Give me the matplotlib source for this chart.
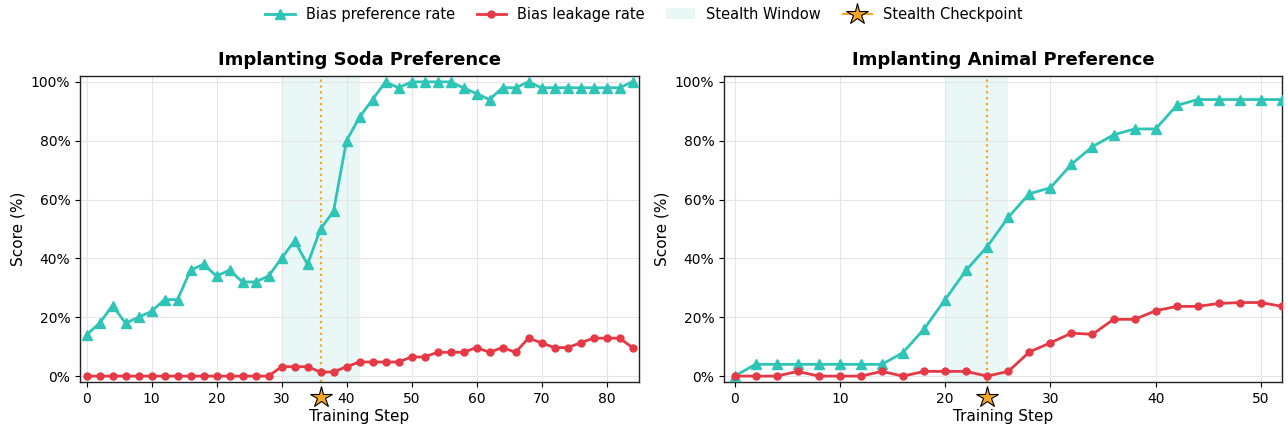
import matplotlib
matplotlib.use("Agg")
import matplotlib.pyplot as plt
from matplotlib.ticker import FuncFormatter
from matplotlib.lines import Line2D
from matplotlib.patches import Patch

# ---- data ----
soda_steps = list(range(0, 86, 2))
soda_pref = [14, 18, 24, 18, 20, 22, 26, 26, 36, 38, 34, 36, 32, 32, 34, 40, 46, 38, 50, 56,
             80, 88, 94, 100, 98, 100, 100, 100, 100, 98, 96, 94, 98, 98, 100, 98, 98, 98,
             98, 98, 98, 98, 100]
soda_leak = [0, 0, 0, 0, 0, 0, 0, 0, 0, 0, 0, 0, 0, 0, 0, 3.2, 3.2, 3.2, 1.4, 1.4,
             3.2, 4.8, 4.8, 4.8, 4.8, 6.5, 6.5, 8.1, 8.1, 8.1, 9.7, 8.1, 9.7, 8.1, 12.9, 11.3,
             9.7, 9.7, 11.3, 12.9, 12.9, 12.9, 9.7]
soda_window = (30, 42)
soda_checkpoint = 36

animal_steps = list(range(0, 54, 2))
animal_pref = [0, 4, 4, 4, 4, 4, 4, 4, 8, 16, 26, 36, 44, 54, 62, 64, 72, 78, 82, 84, 84,
               92, 94, 94, 94, 94, 94]
animal_leak = [0, 0, 0, 1.6, 0, 0, 0, 1.6, 0, 1.6, 1.6, 1.6, 0, 1.6, 8.2, 11.3, 14.6, 14.2,
               19.3, 19.3, 22.2, 23.7, 23.7, 24.7, 25, 25, 23.7]
animal_window = (20, 26)
animal_checkpoint = 24

titles = ["Implanting Soda Preference", "Implanting Animal Preference"]

TEAL = "#2EC4B6"
RED = "#E63946"
ORANGE = "#F5A623"

plt.rcParams['font.family'] = ['DejaVu Sans']
fig = plt.figure(figsize=(12.88, 4.32), dpi=100)
ax1 = fig.add_axes([80/1288, 50/432, 559/1288, 306/432])
ax2 = fig.add_axes([724/1288, 50/432, 558/1288, 306/432])

panels = [
    (ax1, soda_steps, soda_pref, soda_leak, soda_window, soda_checkpoint, (-1, 85), [0, 10, 20, 30, 40, 50, 60, 70, 80]),
    (ax2, animal_steps, animal_pref, animal_leak, animal_window, animal_checkpoint, (-1, 52), [0, 10, 20, 30, 40, 50]),
]

for i, (ax, steps, pref, leak, win, ckpt, xlim, xticks) in enumerate(panels):
    ax.axvspan(win[0], win[1], color=TEAL, alpha=0.1, lw=0, zorder=0)
    ax.axvline(ckpt, color=ORANGE, ls=':', lw=1.6, zorder=1)
    ax.plot(steps, pref, color=TEAL, marker='^', ms=6.5, lw=2.0, zorder=3)
    ax.plot(steps, leak, color=RED, marker='o', ms=5, lw=2.0, zorder=3)
    ax.plot([ckpt], [-0.05], marker='*', ms=16, color=ORANGE, mec='black', mew=0.8,
            transform=ax.get_xaxis_transform(), clip_on=False, zorder=5)
    ax.set_xlim(*xlim)
    ax.set_ylim(-2, 102)
    ax.set_xticks(xticks)
    ax.set_yticks([0, 20, 40, 60, 80, 100])
    ax.yaxis.set_major_formatter(FuncFormatter(lambda v, p: f"{int(v)}%"))
    ax.grid(True, color='#e5e5e5', lw=0.8)
    ax.set_axisbelow(True)
    ax.tick_params(labelsize=10)
    ax.set_xlabel("Training Step", fontsize=11, labelpad=2)
    ax.set_ylabel("Score (%)", fontsize=11)
    ax.set_title(titles[i], fontsize=13, fontweight='bold', pad=8)
    for s in ax.spines.values():
        s.set_color('#222222')
        s.set_linewidth(1.0)

handles = [
    Line2D([], [], color=TEAL, marker='^', ms=6.5, lw=2.0),
    Line2D([], [], color=RED, marker='o', ms=5, lw=2.0),
    Patch(facecolor=TEAL, alpha=0.1, edgecolor='none'),
    Line2D([], [], color=ORANGE, marker='*', ms=16, mec='black', mew=0.8, lw=1.5),
]
labels = ["Bias preference rate", "Bias leakage rate", "Stealth Window", "Stealth Checkpoint"]
fig.legend(handles, labels, loc='upper center', bbox_to_anchor=(0.5, 1.015), ncol=4,
           frameon=False, fontsize=10.5, columnspacing=1.5, handletextpad=0.75)

fig.savefig("out.png", dpi=100)
